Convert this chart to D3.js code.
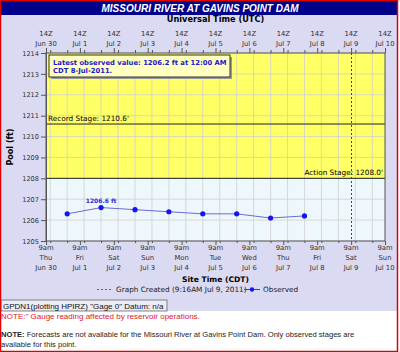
<!DOCTYPE html>
<html><head><meta charset="utf-8">
<script src="https://cdn.jsdelivr.net/npm/d3@7"></script>
<style>
html,body{margin:0;padding:0;background:#fff;}
svg{display:block;}
</style></head>
<body>
<script>
// ---- data ----
const title = "MISSOURI RIVER AT GAVINS POINT DAM";
const obsTimes = ["2011-07-01T00:00","2011-07-02T00:00","2011-07-03T00:00","2011-07-04T00:00",
                  "2011-07-05T00:00","2011-07-06T00:00","2011-07-07T00:00","2011-07-08T00:00"];
const obsValues = [1206.3, 1206.6, 1206.5, 1206.4, 1206.3, 1206.3, 1206.1, 1206.2];
const tickTimes = ["2011-06-30T09:00","2011-07-01T09:00","2011-07-02T09:00","2011-07-03T09:00",
                   "2011-07-04T09:00","2011-07-05T09:00","2011-07-06T09:00","2011-07-07T09:00",
                   "2011-07-08T09:00","2011-07-09T09:00","2011-07-10T09:00"];
const tickDays = ["Thu","Fri","Sat","Sun","Mon","Tue","Wed","Thu","Fri","Sat","Sun"];
const tickDates = ["Jun 30","Jul 1","Jul 2","Jul 3","Jul 4","Jul 5","Jul 6","Jul 7","Jul 8","Jul 9","Jul 10"];
const yTicks = [1205,1206,1207,1208,1209,1210,1211,1212,1213,1214];
const recordStage = 1210.6;
const actionStage = 1208.0;
const createdTime = "2011-07-09T09:16";
const maxLabel = "1206.6 ft";

const parse = s => new Date(s + ":00Z");
const W = 400, H = 352;
const svg = d3.select("body").append("svg").attr("width", W).attr("height", H);

const L = 46, R = 385, T = 53, B = 241;
const x = d3.scaleUtc().domain([parse(tickTimes[0]), parse(tickTimes[tickTimes.length-1])]).range([L, R]);
const y = d3.scaleLinear().domain([1205, 1214]).range([B, T]);

const smallFont = "DejaVu Sans, Verdana";
const nf = "Liberation Sans, Arial";

// backgrounds
svg.append("rect").attr("x",0).attr("y",0).attr("width",W).attr("height",H).attr("fill","#fff");
svg.append("rect").attr("x",1).attr("y",1).attr("width",396).attr("height",310).attr("fill","#dadaf2");
// title bar
svg.append("rect").attr("x",1).attr("y",1).attr("width",396).attr("height",14).attr("fill","#00008b");
svg.append("text").attr("x",200).attr("y",11.5).attr("text-anchor","middle")
  .attr("font-family",nf).attr("font-weight","bold").attr("font-style","italic")
  .attr("font-size",10).attr("fill","#fff").text(title);

// plot bands
svg.append("rect").attr("x",L).attr("y",T).attr("width",R-L).attr("height",B-T).attr("fill","#eef7fc");
svg.append("rect").attr("x",L).attr("y",y(1214)).attr("width",R-L).attr("height",y(actionStage)-y(1214)).attr("fill","#ffff66");

// grid
const halfDays = d3.utcHour.every(12).range(parse(tickTimes[0]), d3.utcHour.offset(parse(tickTimes[10]),1));
svg.append("g").selectAll("line").data(halfDays).join("line")
  .attr("x1",d=>x(d)).attr("x2",d=>x(d)).attr("y1",T).attr("y2",B)
  .attr("stroke","#cfcfcf").attr("stroke-width",0.8);
svg.append("g").selectAll("line").data(yTicks).join("line")
  .attr("x1",L).attr("x2",R).attr("y1",d=>y(d)).attr("y2",d=>y(d))
  .attr("stroke","#cfcfcf").attr("stroke-width",0.8);

// stage lines
[recordStage, actionStage].forEach(v=>{
  svg.append("line").attr("x1",L).attr("x2",R).attr("y1",y(v)).attr("y2",y(v))
    .attr("stroke","#222").attr("stroke-width",1);
});
svg.append("text").attr("x",L+2).attr("y",y(recordStage)-3).attr("font-family",smallFont)
  .attr("font-size",7.3).attr("fill","#000").text("Record Stage: 1210.6'");
svg.append("text").attr("x",R-2).attr("y",y(actionStage)-3).attr("text-anchor","end").attr("font-family",smallFont)
  .attr("font-size",7.3).attr("fill","#000").text("Action Stage: 1208.0'");

// created dashed line
svg.append("line").attr("x1",x(parse(createdTime))).attr("x2",x(parse(createdTime)))
  .attr("y1",T).attr("y2",B).attr("stroke","#444").attr("stroke-width",1).attr("stroke-dasharray","2,2");

// series
const pts = obsTimes.map((t,i)=>({t:parse(t), v:obsValues[i]}));
svg.append("path").datum(pts).attr("fill","none").attr("stroke","#6b6bd0").attr("stroke-width",1)
  .attr("d", d3.line().x(d=>x(d.t)).y(d=>y(d.v)));
svg.append("g").selectAll("circle").data(pts).join("circle")
  .attr("cx",d=>x(d.t)).attr("cy",d=>y(d.v)).attr("r",2.6).attr("fill","#1515f0");
const maxPt = pts[d3.maxIndex(pts, d=>d.v)];
svg.append("text").attr("x",x(maxPt.t)).attr("y",y(maxPt.v)-5).attr("text-anchor","middle")
  .attr("font-family",smallFont).attr("font-weight","bold").attr("font-size",6).attr("fill","#2a2ad0").text(maxLabel);

// plot frame
svg.append("rect").attr("x",L).attr("y",T).attr("width",R-L).attr("height",B-T)
  .attr("fill","none").attr("stroke","#555").attr("stroke-width",1);

// axes
const tdates = tickTimes.map(parse);
const ax = svg.append("g").attr("font-family",smallFont).attr("font-size",6.8).attr("fill","#333");
// left
const yAxis = d3.axisLeft(y).tickValues(yTicks).tickSize(5).tickFormat(d3.format("d"));
const gy = svg.append("g").attr("transform",`translate(${L},0)`).call(yAxis);
gy.select(".domain").attr("stroke","#555");
gy.selectAll("line").attr("stroke","#555");
gy.selectAll("text").attr("font-family",smallFont).attr("font-size",6.6).attr("fill","#333").attr("x",-7);
// bottom
const xB = d3.axisBottom(x).tickValues(tdates).tickSize(4).tickFormat("");
const gb = svg.append("g").attr("transform",`translate(0,${B})`).call(xB);
gb.select(".domain").remove(); gb.selectAll("line").attr("stroke","#555");
const xBm = d3.axisBottom(x).tickValues(halfDays).tickSize(2).tickFormat("");
const gbm = svg.append("g").attr("transform",`translate(0,${B})`).call(xBm);
gbm.select(".domain").remove(); gbm.selectAll("line").attr("stroke","#555");
// top
const xT = d3.axisTop(x).tickValues(halfDays).tickSize(3).tickFormat("");
const gt = svg.append("g").attr("transform",`translate(0,${T})`).call(xT);
gt.select(".domain").remove(); gt.selectAll("line").attr("stroke","#555");
const gt2 = svg.append("g").attr("transform",`translate(0,${T})`).call(d3.axisTop(x).tickValues(tdates).tickSize(5).tickFormat(""));
gt2.select(".domain").remove(); gt2.selectAll("line").attr("stroke","#555");

tdates.forEach((d,i)=>{
  const cx = x(d);
  ax.append("text").attr("x",cx).attr("y",250).attr("text-anchor","middle").text("9am");
  ax.append("text").attr("x",cx).attr("y",260).attr("text-anchor","middle").text(tickDays[i]);
  ax.append("text").attr("x",cx).attr("y",270).attr("text-anchor","middle").text(tickDates[i]);
  ax.append("text").attr("x",cx).attr("y",35.5).attr("text-anchor","middle").text("14Z");
  ax.append("text").attr("x",cx).attr("y",45.5).attr("text-anchor","middle").text(tickDates[i]);
});

// axis titles
const cxp = (L+R)/2;
svg.append("text").attr("x",cxp).attr("y",21.5).attr("text-anchor","middle").attr("font-family",smallFont)
  .attr("font-weight","bold").attr("font-size",8.2).attr("fill","#000").text("Universal Time (UTC)");
svg.append("text").attr("x",cxp).attr("y",282).attr("text-anchor","middle").attr("font-family",smallFont)
  .attr("font-weight","bold").attr("font-size",7.6).attr("fill","#000").text("Site Time (CDT)");
svg.append("text").attr("transform",`translate(13,${(T+B)/2}) rotate(-90)`).attr("text-anchor","middle")
  .attr("font-family",smallFont).attr("font-weight","bold").attr("font-size",8).attr("fill","#000").text("Pool (ft)");

// legend
const lg = svg.append("g").attr("font-family",smallFont).attr("font-size",7.3).attr("fill","#222");
lg.append("line").attr("x1",97).attr("x2",112).attr("y1",289.5).attr("y2",289.5).attr("stroke","#666").attr("stroke-dasharray","2,2");
lg.append("text").attr("x",116).attr("y",292.3).text("Graph Created (9:16AM Jul 9, 2011)");
lg.append("line").attr("x1",244).attr("x2",260).attr("y1",289.5).attr("y2",289.5).attr("stroke","#3a3ad8");
lg.append("circle").attr("cx",252).attr("cy",289.5).attr("r",2.2).attr("fill","#1515f0");
lg.append("text").attr("x",263).attr("y",292.3).text("Observed");

// latest box
svg.append("rect").attr("x",51).attr("y",57).attr("width",181).attr("height",22).attr("fill","#999");
svg.append("rect").attr("x",49).attr("y",55).attr("width",181).attr("height",22).attr("fill","#ffffc0").attr("stroke","#333").attr("stroke-width",1);
const lb = svg.append("text").attr("font-family",smallFont).attr("font-weight","bold").attr("font-size",6.8).attr("fill","#1a1acc");
lb.append("tspan").attr("x",53).attr("y",64.5).text("Latest observed value: 1206.2 ft at 12:00 AM");
lb.append("tspan").attr("x",53).attr("y",72.5).text("CDT 8-Jul-2011.");

// gauge box
svg.append("rect").attr("x",1).attr("y",300).attr("width",166).attr("height",11).attr("fill","#ececf8").attr("stroke","#666").attr("stroke-width",0.8);
svg.append("text").attr("x",3).attr("y",308.5).attr("font-family",nf).attr("font-size",8).attr("fill","#111")
  .text('GPDN1(plotting HPIRZ) "Gage 0" Datum: n/a');

// notes
svg.append("text").attr("x",1).attr("y",318.5).attr("font-family",nf).attr("font-size",8).attr("fill","#e0201c")
  .text('NOTE:" Gauge reading affected by reservoir operations.');
const n2 = svg.append("text").attr("font-family",nf).attr("font-size",7.6).attr("fill","#222");
n2.append("tspan").attr("x",1).attr("y",337).attr("font-weight","bold").text("NOTE:");
n2.append("tspan").text(" Forecasts are not available for the Missouri River at Gavins Point Dam. Only observed stages are");
svg.append("text").attr("x",1).attr("y",347).attr("font-family",nf).attr("font-size",7.6).attr("fill","#222").text("available for this point.");

// red border
svg.append("rect").attr("x",0.5).attr("y",0.5).attr("width",397).attr("height",351).attr("fill","none").attr("stroke","#e00000").attr("stroke-width",1.5);
</script>
</body></html>
